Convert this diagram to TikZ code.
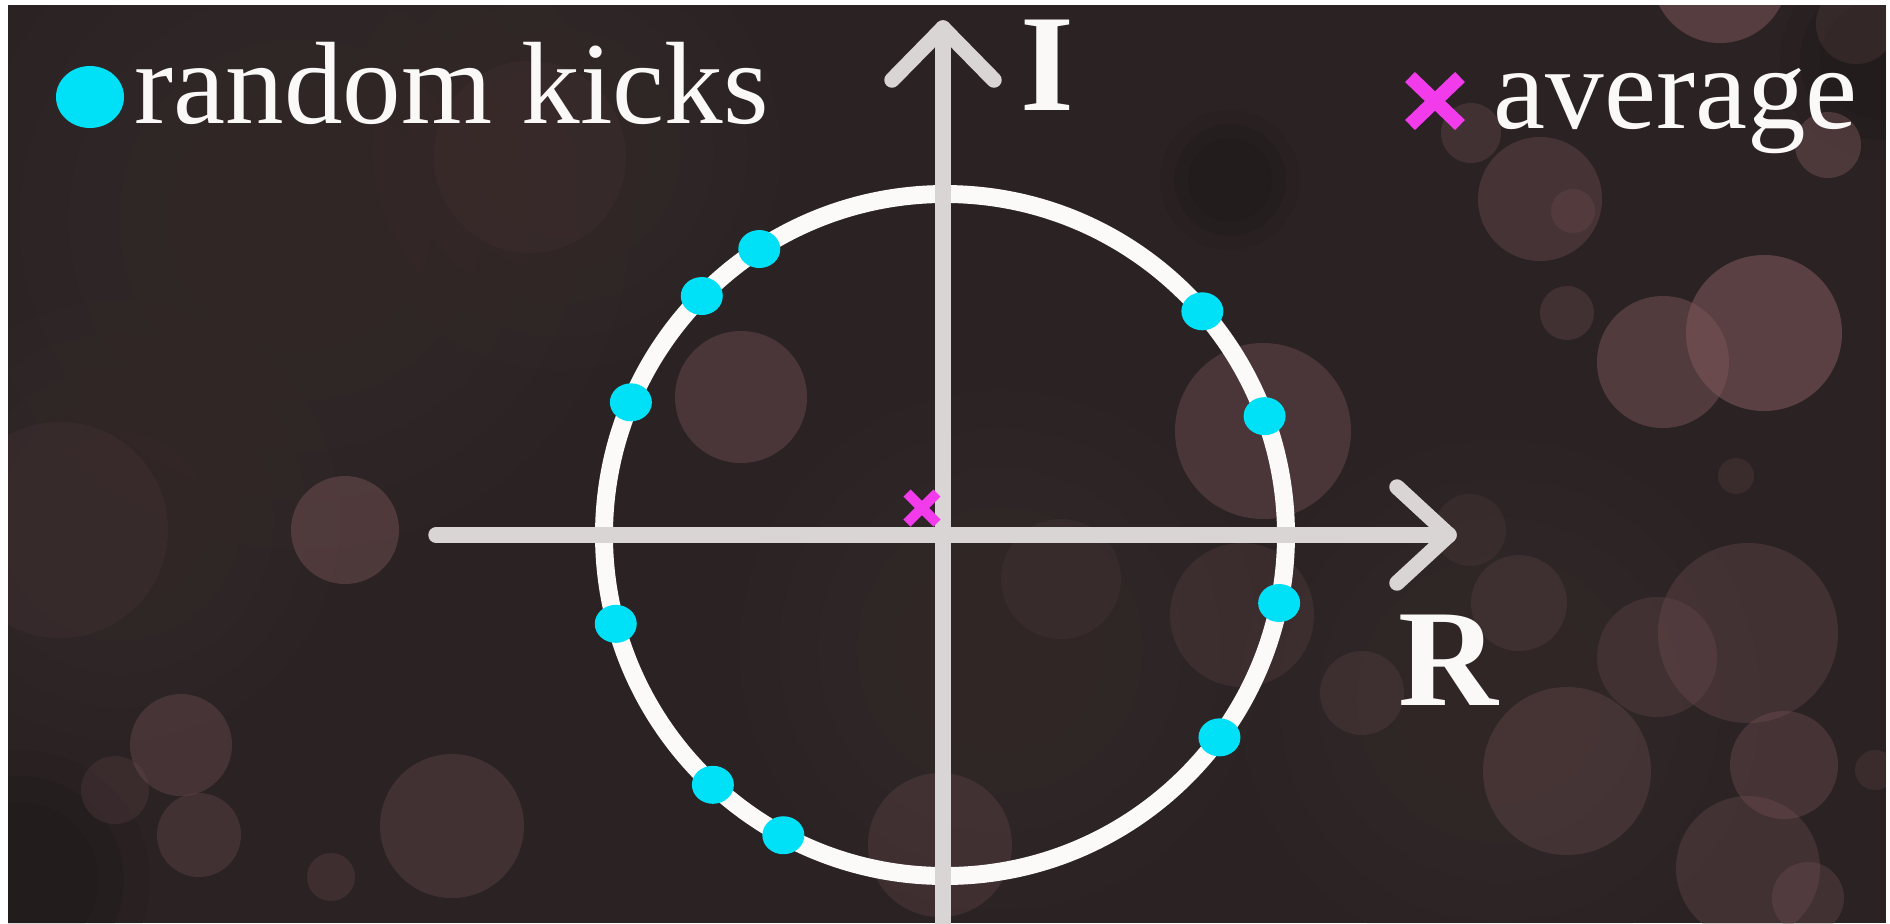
\documentclass[tikz,border=0pt]{standalone}
\usepackage{fontspec}
\usetikzlibrary{calc}
\setmainfont{Liberation Serif}
\definecolor{bg}{HTML}{2B2223}
\definecolor{bokeh}{HTML}{7A5558}
\definecolor{haze}{HTML}{4A3636}
\definecolor{kick}{HTML}{00E1F7}
\definecolor{avg}{HTML}{F23CEC}
\definecolor{axisgray}{HTML}{D9D5D5}
\definecolor{ringwhite}{HTML}{FCF9F9}
\definecolor{txt}{HTML}{FBF8F8}
\tikzset{
  axisline/.style={draw=axisgray, line width=4.4pt, line cap=round, line join=round},
  ring/.style={draw=ringwhite, line width=5.1pt},
  kickdot/.style={fill=kick},
  avgcross/.style={draw=avg, line cap=butt},
  legendtext/.style={text=txt, font=\fontsize{33.3}{40}\selectfont, anchor=base west, inner sep=0pt},
  axislabel/.style={text=txt, font=\bfseries\fontsize{39.3}{45}\selectfont, anchor=base west, inner sep=0pt}
}
\begin{document}
\begin{tikzpicture}[x=0.01cm,y=-0.01cm]
\useasboundingbox (0,0) rectangle (1890,923);
% frame and background
\fill[white] (0,0) rectangle (1890,923);
\fill[bg] (8,5) rectangle (1886,923);
\begin{scope}
  \clip (8,5) rectangle (1886,923);
  % soft haze (layered for a smooth falloff)
  \foreach \x/\y/\r in {300/220/330, 560/150/220, 120/520/220, 1000/650/260, 1500/700/260}
    \foreach \f in {1.0,0.85,0.7,0.55,0.4}
      \fill[haze, fill opacity=0.06] (\x,\y) circle [radius=\f*\r];
  \foreach \x/\y/\r in {1230/180/70, 1880/60/100, 20/880/130}
    \foreach \f in {1.0,0.8,0.6}
      \fill[black, fill opacity=0.05] (\x,\y) circle [radius=\f*\r];
  % bokeh circles
  \foreach \x/\y/\r/\o in {
    1720/-25/68/0.55, 1540/199/62/0.35, 1573/211/22/0.25, 1764/333/78/0.6,
    1663/362/66/0.5, 1567/313/27/0.3, 1471/133/30/0.3, 1828/145/33/0.45,
    1856/24/40/0.2, 1263/431/88/0.4, 741/397/66/0.4, 345/530/54/0.45,
    181/745/51/0.35, 199/835/42/0.3, 452/826/72/0.3, 115/790/34/0.2,
    331/877/24/0.25, 940/845/72/0.25, 1567/771/84/0.3, 1748/633/90/0.3,
    1784/765/54/0.35, 1657/657/60/0.25, 1748/868/72/0.3, 1808/898/36/0.3,
    1519/603/48/0.2, 1470/530/36/0.15, 1362/693/42/0.2, 1242/615/72/0.2,
    1061/579/60/0.12, 1736/476/18/0.2, 1875/770/20/0.2, 60/530/108/0.1,
    530/157/96/0.08}
    \fill[bokeh, fill opacity=\o] (\x,\y) circle [radius=\r];
\end{scope}
% ring
\coordinate (C) at (945,535);
\draw[ring] (C) circle [radius=341];
% axes
\coordinate (vtop) at (943,28);
\coordinate (vbot) at (943,940);
\coordinate (vl) at (892,80);
\coordinate (vr) at (994,80);
\coordinate (hl) at (436,535);
\coordinate (hr) at (1449,535);
\coordinate (hu) at (1397,487);
\coordinate (hd) at (1397,583);
\draw[axisline] (vbot) -- (vtop);
\draw[axisline] (vl) -- (vtop) -- (vr);
\draw[axisline] (hl) -- (hr);
\draw[axisline] (hu) -- (hr) -- (hd);
% random kicks on the ring
\foreach \a in {123, 135.5, 157.1, 195.1, 227.1, 241.7, 323.6, 348.5, 20.4, 41.0}
  \fill[kickdot] ($(C)+(-\a:341)$) ellipse [x radius=21, y radius=19];
% average
\coordinate (A) at (922,508);
\draw[avgcross, line width=2.85pt] ($(A)+(-15,-15)$) -- ($(A)+(15,15)$);
\draw[avgcross, line width=2.85pt] ($(A)+(-15,15)$) -- ($(A)+(15,-15)$);
% axis labels
\node[axislabel] (Ilab) at (1020,110) {I};
\node[axislabel] (Rlab) at (1398,705) {R};
% legend
\fill[kickdot] (90,97) ellipse [x radius=34, y radius=31];
\node[legendtext] (kicks) at (134,123) {random kicks};
\coordinate (L) at (1435,101);
\draw[avgcross, line width=4pt] ($(L)+(-25,-24)$) -- ($(L)+(25,24)$);
\draw[avgcross, line width=4pt] ($(L)+(-25,24)$) -- ($(L)+(25,-24)$);
\node[legendtext] (avglab) at (1493,128) {average};
\end{tikzpicture}
\end{document}
